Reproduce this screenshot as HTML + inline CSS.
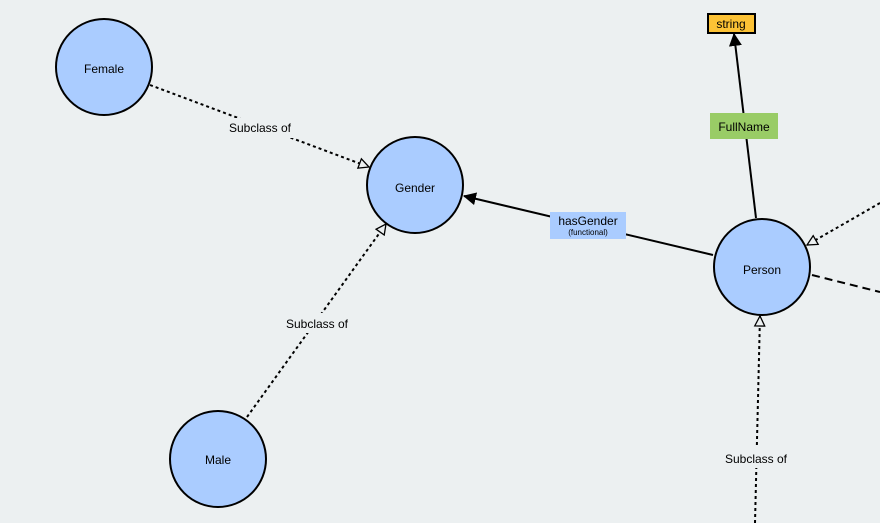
<!DOCTYPE html>
<html><head><style>
html,body{margin:0;padding:0;background:#ecf0f1;}
svg{display:block;font-family:"Liberation Sans",Arial,sans-serif;}
</style></head><body>
<svg width="880" height="523" viewBox="0 0 880 523" xmlns="http://www.w3.org/2000/svg">
<defs>
<marker id="open" viewBox="0 0 12 12" refX="11" refY="6" markerWidth="12" markerHeight="12" markerUnits="userSpaceOnUse" orient="auto">
<path d="M1,1 L11,6 L1,11 Z" fill="#ecf0f1" stroke="#000" stroke-width="1.3"/>
</marker>
<marker id="fill" viewBox="0 0 12 12" refX="11" refY="6" markerWidth="13" markerHeight="13" markerUnits="userSpaceOnUse" orient="auto">
<path d="M0,0 L12,6 L0,12 Z" fill="#000"/>
</marker>
</defs>
<rect width="880" height="523" fill="#ecf0f1"/>
<g stroke="#000" stroke-width="2" fill="none">
<line x1="150" y1="85" x2="369" y2="167" stroke-dasharray="3,3" marker-end="url(#open)"/>
<line x1="247" y1="417" x2="386" y2="224" stroke-dasharray="3,3" marker-end="url(#open)"/>
<line x1="713" y1="255" x2="464" y2="196" marker-end="url(#fill)"/>
<line x1="756" y1="218" x2="734" y2="34" marker-end="url(#fill)"/>
<line x1="880" y1="203" x2="807" y2="245" stroke-dasharray="3,3" marker-end="url(#open)"/>
<line x1="812" y1="275" x2="880" y2="292" stroke-dasharray="8,5"/>
<line x1="755" y1="523" x2="760" y2="316" stroke-dasharray="3,3" marker-end="url(#open)"/>
</g>
<g fill="#aaccff" stroke="#000" stroke-width="2">
<circle cx="104" cy="67" r="48"/>
<circle cx="415" cy="185" r="48"/>
<circle cx="218" cy="459" r="48"/>
<circle cx="762" cy="267" r="48"/>
</g>
<g font-size="12" fill="#000" text-anchor="middle">
<text x="104" y="73">Female</text>
<text x="415" y="192">Gender</text>
<text x="218" y="464">Male</text>
<text x="762" y="274">Person</text>
</g>
<rect x="225" y="118" width="70" height="20" fill="#ecf0f1"/>
<text x="260" y="132" font-size="12" text-anchor="middle">Subclass of</text>
<rect x="282" y="313" width="70" height="20" fill="#ecf0f1"/>
<text x="317" y="328" font-size="12" text-anchor="middle">Subclass of</text>
<rect x="721" y="448" width="70" height="20" fill="#ecf0f1"/>
<text x="756" y="463" font-size="12" text-anchor="middle">Subclass of</text>
<rect x="708" y="14" width="47" height="19" fill="#fcc235" stroke="#000" stroke-width="2"/>
<text x="731" y="28" font-size="12" text-anchor="middle">string</text>
<rect x="710" y="113" width="68" height="26" fill="#99cc66"/>
<text x="744" y="131" font-size="12" text-anchor="middle">FullName</text>
<rect x="550" y="212" width="76" height="27" fill="#aaccff"/>
<text x="588" y="225" font-size="12" text-anchor="middle">hasGender</text>
<text x="588" y="235" font-size="8" text-anchor="middle">(functional)</text>
</svg>
</body></html>
